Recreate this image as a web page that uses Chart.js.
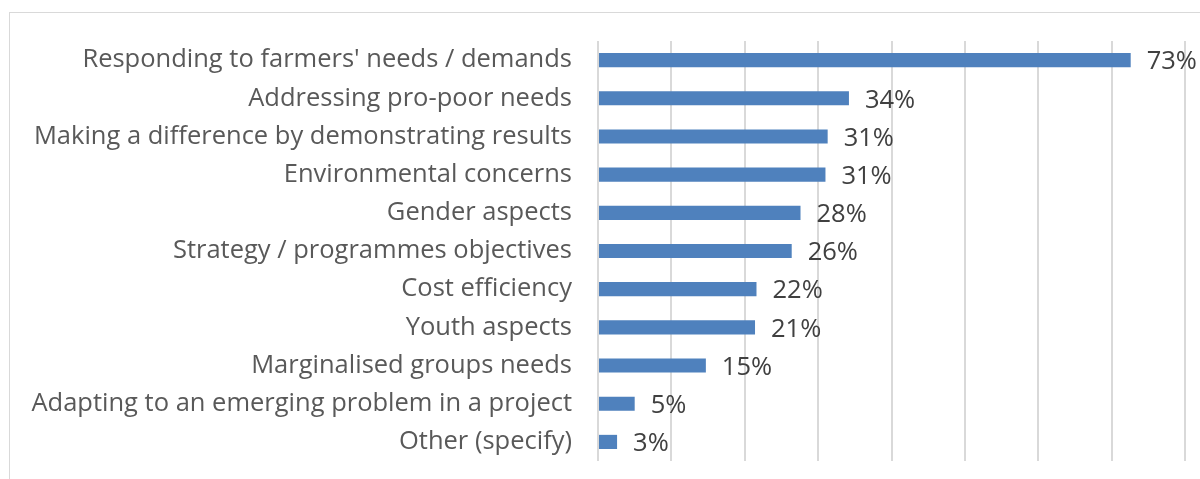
<!DOCTYPE html>
<html>
<head>
<meta charset="utf-8">
<script src="https://cdn.jsdelivr.net/npm/chart.js@4"></script>
<style>
  html, body { margin: 0; padding: 0; background: #fff; }
  body { width: 1200px; height: 479px; position: relative; overflow: hidden; }
  .frame { position: absolute; left: 9px; top: 12px; width: 1200px; height: 500px; border: 1px solid #d9d9d9; box-sizing: border-box; }
  .wrap { position: absolute; left: 0; top: 0; width: 1200px; height: 479px; }
</style>
</head>
<body>
<div class="frame"></div>
<div class="wrap"><canvas id="reasonChart"></canvas></div>
<script>
const categories = [
  "Responding to farmers' needs / demands",
  "Addressing pro-poor needs",
  "Making a difference by demonstrating results",
  "Environmental concerns",
  "Gender aspects",
  "Strategy / programmes objectives",
  "Cost efficiency",
  "Youth aspects",
  "Marginalised groups needs",
  "Adapting to an emerging problem in a project",
  "Other (specify)"
];
const shares = [0.726, 0.342, 0.313, 0.310, 0.276, 0.264, 0.216, 0.214, 0.147, 0.050, 0.026];
const axisMax = 0.8;
const axisStep = 0.1;

const barLabelPlugin = {
  id: "barLabels",
  afterDatasetsDraw(chart) {
    const { ctx } = chart;
    const meta = chart.getDatasetMeta(0);
    ctx.save();
    ctx.font = "25.5px 'Open Sans'";
    ctx.fillStyle = "#404040";
    ctx.textAlign = "left";
    ctx.textBaseline = "middle";
    meta.data.forEach((bar, i) => {
      const text = Math.round(shares[i] * 100) + "%";
      ctx.fillText(text, bar.x + 16, bar.y + 2);
    });
    ctx.restore();
  }
};

const ctx = document.getElementById("reasonChart").getContext("2d");
const reasonChart = new Chart(ctx, {
  type: "bar",
  plugins: [barLabelPlugin],
  data: {
    labels: categories,
    datasets: [
      {
        data: shares,
        backgroundColor: "#4f81bd",
        borderWidth: 0,
        barPercentage: 0.37,
        categoryPercentage: 1.0
      }
    ]
  },
  options: {
    indexAxis: "y",
    responsive: true,
    maintainAspectRatio: false,
    animation: false,
    layout: {
      padding: { left: 0, right: 15, top: 41, bottom: 18 }
    },
    plugins: {
      legend: { display: false },
      tooltip: { enabled: false }
    },
    scales: {
      x: {
        min: 0,
        max: axisMax,
        ticks: { display: false, stepSize: axisStep },
        grid: { color: "#d9d9d9", lineWidth: 2, drawTicks: false },
        border: { display: false },
        afterFit(scale) {
          scale.height = 0;
          scale.paddingLeft = 0;
          scale.paddingRight = 0;
        }
      },
      y: {
        grid: { display: false, drawTicks: false },
        border: { display: false },
        ticks: {
          color: "#595959",
          font: { family: "'Open Sans'", size: 25.5 },
          padding: 26
        },
        afterFit(scale) {
          scale.width = 598;
          scale.paddingTop = 0;
          scale.paddingBottom = 0;
        }
      }
    }
  }
});
</script>
</body>
</html>
